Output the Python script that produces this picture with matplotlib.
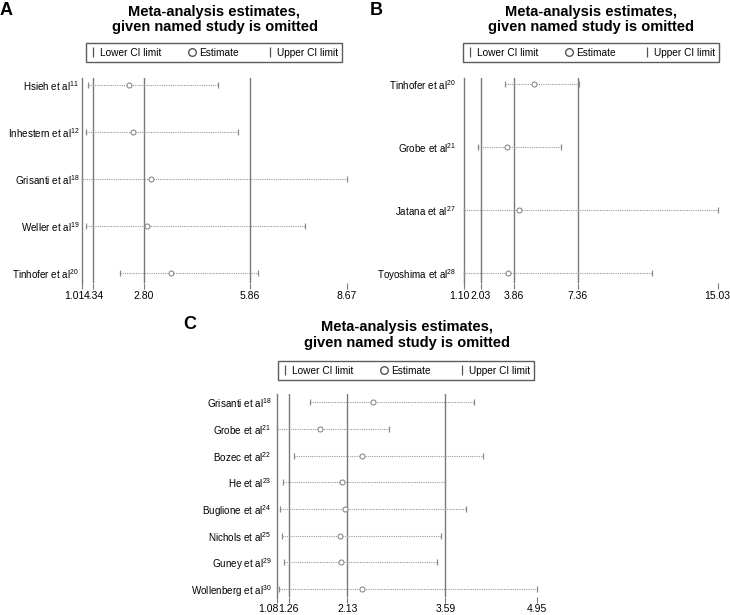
import matplotlib
matplotlib.use("Agg")
import matplotlib.pyplot as plt
from matplotlib.lines import Line2D
from matplotlib.transforms import ScaledTranslation

plt.rcParams['font.family'] = ['Liberation Sans', 'DejaVu Sans']
plt.rcParams['mathtext.fontset'] = 'custom'
plt.rcParams['mathtext.rm'] = 'Liberation Sans'
plt.rcParams['mathtext.it'] = 'Liberation Sans'

# ---------------- data ----------------
a_studies = ['Hsieh et al', 'Inhestern et al', 'Grisanti et al', 'Weller et al', 'Tinhofer et al']
a_refs = ['11', '12', '18', '19', '20']
a_lower = [1.17, 1.13, 1.01, 1.14, 2.11]
a_est = [2.36, 2.47, 3.00, 2.88, 3.58]
a_upper = [4.94, 5.53, 8.67, 7.46, 6.10]
a_summary = [1.34, 2.80, 5.86]
a_ticks = [1.01, 1.34, 2.80, 5.86, 8.67]
a_ticklabels = ['1.01', '4.34', '2.80', '5.86', '8.67']

b_studies = ['Tinhofer et al', 'Grobe et al', 'Jatana et al', 'Toyoshima et al']
b_refs = ['20', '21', '27', '28']
b_lower = [3.39, 1.89, 1.13, 1.10]
b_est = [4.98, 3.46, 4.15, 3.51]
b_upper = [7.43, 6.46, 15.03, 11.45]
b_summary = [2.03, 3.86, 7.36]
b_ticks = [1.10, 2.03, 3.86, 7.36, 15.03]
b_ticklabels = ['1.10', '2.03', '3.86', '7.36', '15.03']

c_studies = ['Grisanti et al', 'Grobe et al', 'Bozec et al', 'He et al', 'Buglione et al',
             'Nichols et al', 'Guney et al', 'Wollenberg et al']
c_refs = ['18', '21', '22', '23', '24', '25', '29', '30']
c_lower = [1.57, 1.08, 1.34, 1.17, 1.13, 1.16, 1.19, 1.12]
c_est = [2.51, 1.72, 2.35, 2.05, 2.09, 2.02, 2.03, 2.35]
c_upper = [4.02, 2.75, 4.15, 3.58, 3.90, 3.52, 3.46, 4.95]
c_summary = [1.26, 2.13, 3.59]
c_ticks = [1.08, 1.26, 2.13, 3.59, 4.95]
c_ticklabels = ['1.08', '1.26', '2.13', '3.59', '4.95']

title_text = 'Meta-analysis estimates,\ngiven named study is omitted'

W, H = 730, 615
fig = plt.figure(figsize=(W / 100, H / 100), dpi=100)

REF = '#7a7a7a'
DOT = '#9a9a9a'
MK = '#8a8a8a'
FS_Y = 7.1
FS_LEG = 7.3
FS_X = 7.5


def px_rect(l, t, r, b):
    return [l / W, 1 - b / H, (r - l) / W, (b - t) / H]


def panel(rect, studies, refs, lower, est, upper, summary, ticks, ticklabels,
          ylim, letter, letter_xy, ypad, legend_rect, title_y, first_shift, xpad):
    ax = fig.add_axes(px_rect(*rect))
    n = len(studies)
    ys = list(range(1, n + 1))
    for v in summary:
        ax.axvline(v, color=REF, lw=1.0, zorder=1)
    for y, lo, e, up in zip(ys, lower, est, upper):
        ax.plot([lo, up], [y, y], color=DOT, lw=0.8, linestyle=(0, (1, 1)), zorder=2)
    ax.plot(lower, ys, linestyle='none', marker='|', markersize=5, mew=0.9,
            color=MK, zorder=3, clip_on=False)
    ax.plot(upper, ys, linestyle='none', marker='|', markersize=5, mew=0.9,
            color=MK, zorder=3, clip_on=False)
    ax.plot(est, ys, linestyle='none', marker='o', markersize=3.6, mfc='white',
            mec=MK, mew=0.8, zorder=4, clip_on=False)
    ax.set_xlim(ticks[0], ticks[-1])
    ax.set_ylim(*ylim)
    ax.set_yticks(ys)
    ax.set_yticklabels([s + r'$^{\mathrm{' + r + '}}$' for s, r in zip(studies, refs)],
                       fontsize=FS_Y)
    ax.set_xticks(ticks)
    ax.set_xticklabels(ticklabels, fontsize=FS_X)
    ax.tick_params(axis='y', length=0, pad=ypad)
    ax.tick_params(axis='x', length=4, width=0.8, color=REF, pad=xpad)
    first = ax.get_xticklabels()[0]
    first.set_transform(first.get_transform() +
                        ScaledTranslation(-first_shift / 100, 0, fig.dpi_scale_trans))
    for s in ['top', 'right', 'bottom']:
        ax.spines[s].set_visible(False)
    ax.spines['left'].set_color(REF)
    ax.spines['left'].set_linewidth(1.0)

    handles = [
        Line2D([], [], linestyle='none', marker='|', markersize=7, mew=0.9, color='#555555'),
        Line2D([], [], linestyle='none', marker='o', markersize=5.5, mfc='white',
               mec='#555555', mew=1.0),
        Line2D([], [], linestyle='none', marker='|', markersize=7, mew=0.9, color='#555555'),
    ]
    l, t, r, b = legend_rect
    leg = fig.legend(handles, ['Lower CI limit', 'Estimate', 'Upper CI limit'],
                     loc='lower left', ncol=3, mode='expand',
                     bbox_to_anchor=(l / W, 1 - b / H, (r - l) / W, (b - t) / H),
                     bbox_transform=fig.transFigure, fontsize=FS_LEG, frameon=True,
                     fancybox=False, borderpad=0.42, handlelength=0.5,
                     handletextpad=0.45, borderaxespad=0, columnspacing=1.0)
    fr = leg.get_frame()
    fr.set_edgecolor('#333333')
    fr.set_linewidth(1.0)

    cx = (rect[0] + rect[2]) / 2 / W
    fig.text(cx, 1 - title_y / H, title_text, ha='center', va='center',
             fontsize=10.5, fontweight='bold', linespacing=1.12)
    fig.text(letter_xy[0] / W, 1 - letter_xy[1] / H, letter, ha='left', va='top',
             fontsize=13, fontweight='bold')
    return ax


panel((82, 78, 347, 283), a_studies, a_refs, a_lower, a_est, a_upper, a_summary,
      a_ticks, a_ticklabels, (5.22, 0.85), 'A', (0, 2), 1.8, (86, 43, 342, 62), 19.5, 8, 1.5)
panel((463.7, 78, 717.7, 283), b_studies, b_refs, b_lower, b_est, b_upper, b_summary,
      b_ticks, b_ticklabels, (4.16, 0.905), 'B', (370, 2), 5.6, (463, 43, 719, 62), 19.5, 4, 1.5)
panel((276.7, 394.3, 536.7, 597), c_studies, c_refs, c_lower, c_est, c_upper, c_summary,
      c_ticks, c_ticklabels, (8.3, 0.70), 'C', (183, 316), 3.6, (278, 360, 534, 380), 335, 8, 0.8)

fig.savefig('out.png', dpi=100)
